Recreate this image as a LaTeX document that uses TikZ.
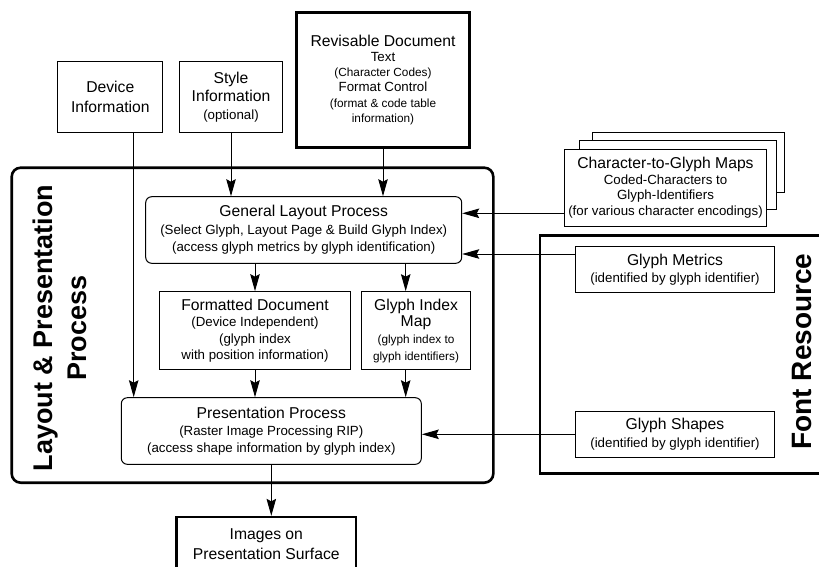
\documentclass[tikz,border=0pt]{standalone}
\usepackage{fontspec}
\setmainfont{Liberation Sans}
\usetikzlibrary{shapes,arrows.meta}

\newcommand{\midtxt}[1]{{\fontsize{13.3}{15}\selectfont #1}}
\newcommand{\smtxt}[1]{{\fontsize{11.8}{14}\selectfont #1}}

\begin{document}
\begin{tikzpicture}[x=1pt,y=-1pt]
\tikzset{
mybox/.style={rectangle, draw=black, line width=1pt, align=center, inner sep=0pt,
font=\fontsize{15.7}{17}\selectfont},
thickbox/.style={mybox, line width=2.6pt},
roundbox/.style={mybox, rounded corners=6pt},
stackbox/.style={mybox, fill=white},
myarrow/.style={-{Stealth[length=17pt,width=9.5pt,inset=2.5pt]}, line width=1pt},
sidelabel/.style={rotate=90, align=center, inner sep=0pt},
}
\clip (0,0) rectangle (819,567);

% outer frames
\node [thickbox, rounded corners=9pt, minimum width=481.6pt, minimum height=315pt] (layout) at (252.5,325.2) {};
\node [sidelabel, font=\bfseries\fontsize{27}{34}\selectfont] (layoutlabel) at (60,328) {Layout \& Presentation\\Process};
\node [thickbox, minimum width=285pt, minimum height=238pt] (fontres) at (682.5,354.3) {};
\node [sidelabel, font=\bfseries\fontsize{28}{34}\selectfont] (fontlabel) at (801.7,351.5) {Font Resource};

% inputs
\node [mybox, minimum width=105.3pt, minimum height=70.6pt, font=\fontsize{15.7}{20}\selectfont] (dev) at (110.3,97) {Device\\Information};
\node [mybox, minimum width=102.6pt, minimum height=70.6pt, font=\fontsize{15.7}{18}\selectfont] (sty) at (231,97) {Style\\Information\\\midtxt{(optional)}};
\node [thickbox, minimum width=172.6pt, minimum height=135pt, font=\fontsize{15.7}{15.3}\selectfont] (rev) at (383,79.8)
{Revisable Document\\\midtxt{Text}\\\smtxt{(Character Codes)}\\\midtxt{Format Control}\\\smtxt{(format \& code table}\\\smtxt{information)}};

% layout & presentation process
\node [roundbox, minimum width=316pt, minimum height=66.6pt, font=\fontsize{15.7}{17.5}\selectfont] (gen) at (303.7,230)
{General Layout Process\\\midtxt{(Select Glyph, Layout Page \& Build Glyph Index)}\\\midtxt{(access glyph metrics by glyph identification)}};
\node [mybox, minimum width=190.6pt, minimum height=78.3pt, font=\fontsize{15.7}{16.3}\selectfont] (fmt) at (255,330.8)
{Formatted Document\\\midtxt{(Device Independent)}\\\midtxt{(glyph index}\\\midtxt{with position information)}};
\node [mybox, minimum width=108.6pt, minimum height=78.3pt, font=\fontsize{15.7}{16.8}\selectfont] (gim) at (416,330.8)
{Glyph Index\\Map\\\smtxt{(glyph index to}\\\smtxt{glyph identifiers)}};
\node [roundbox, minimum width=300pt, minimum height=66.6pt, font=\fontsize{15.7}{17.2}\selectfont] (pres) at (271.3,431)
{Presentation Process\\\midtxt{(Raster Image Processing RIP)}\\\midtxt{(access shape information by glyph index)}};
\node [thickbox, minimum width=179.3pt, minimum height=53.7pt, font=\fontsize{15.7}{20}\selectfont] (img) at (266.3,544) {Images on\\Presentation Surface};

% character-to-glyph maps (stacked)
\node [stackbox, minimum width=191.7pt, minimum height=59.7pt] (c2gback) at (688.2,162.2) {};
\node [stackbox, minimum width=197.3pt, minimum height=69.3pt] (c2gmid) at (677.7,174.7) {};
\node [stackbox, minimum width=202.4pt, minimum height=76.7pt, font=\fontsize{15.7}{15.8}\selectfont] (c2g) at (665.5,187.7)
{Character-to-Glyph Maps\\\midtxt{Coded-Characters to}\\\midtxt{Glyph-Identifiers}\\\midtxt{(for various character encodings)}};

% font resource
\node [mybox, minimum width=199.4pt, minimum height=46pt, font=\fontsize{15.7}{17.3}\selectfont] (gm) at (675,269.7) {Glyph Metrics\\\midtxt{(identified by glyph identifier)}};
\node [mybox, minimum width=199.4pt, minimum height=46pt, font=\fontsize{15.7}{17.3}\selectfont] (gs) at (675,434.3) {Glyph Shapes\\\midtxt{(identified by glyph identifier)}};

% connectors
\draw[myarrow] ([xshift=23.4pt]dev.south) -- ([xshift=23.4pt]dev.south |- pres.north);
\draw[myarrow] (sty) -- (sty |- gen.north);
\draw[myarrow] (rev) -- (rev |- gen.north);
\draw[myarrow] (gen.south -| fmt) -- (fmt);
\draw[myarrow] ([xshift=-10.3pt]gim.north |- gen.south) -- ([xshift=-10.3pt]gim.north);
\draw[myarrow] (fmt) -- (fmt |- pres.north);
\draw[myarrow] ([xshift=-10.3pt]gim.south) -- ([xshift=-10.3pt]gim.south |- pres.north);
\draw[myarrow] (pres) -- (pres |- img.north);
\draw[myarrow] ([yshift=-25.6pt]c2g.west) -- ([yshift=16.7pt]gen.east);
\draw[myarrow] ([yshift=15.7pt]gm.west) -- ([yshift=-24pt]gen.east);
\draw[myarrow] (gs.west) -- (gs.west -| pres.east);
\end{tikzpicture}
\end{document}
